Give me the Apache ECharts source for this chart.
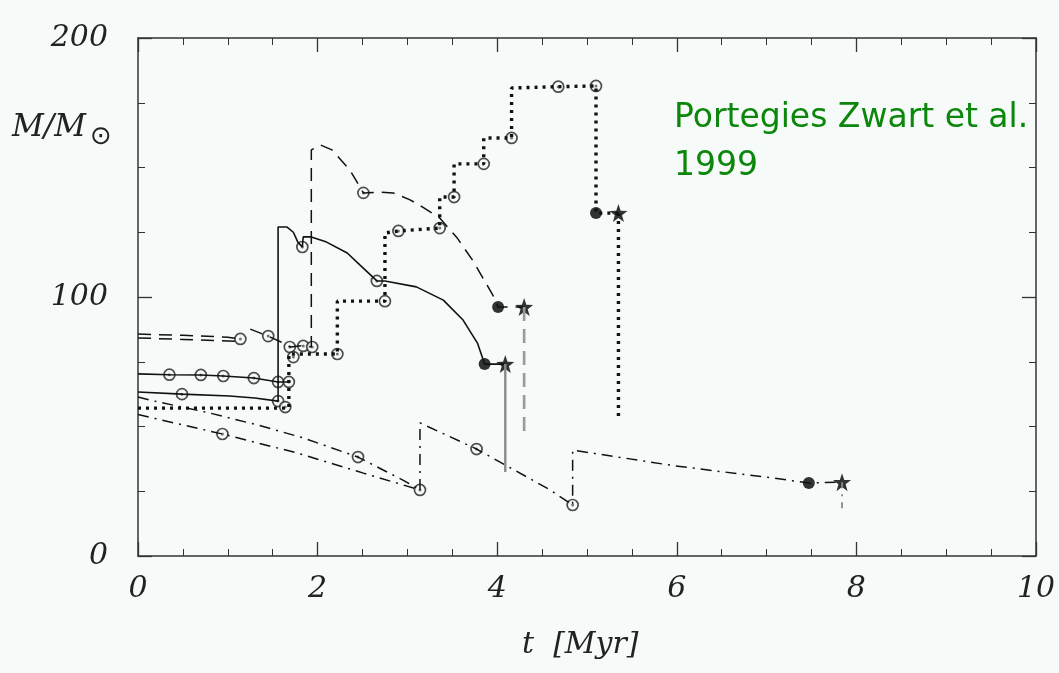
<!DOCTYPE html>
<html>
<head>
<meta charset="UTF-8">
<title>runaway merger mass</title>
<style>
	* { margin: 0; padding: 0; }
	html, body { width: 100%; height: 100%; overflow: hidden; background: #f6faf8; }
	#chart { width: 1059px; height: 673px; }
</style>
</head>
<body>
<div id="chart"></div>
<script src="https://cdn.jsdelivr.net/npm/echarts@6/dist/echarts.min.js"></script>
<script>
// x ticks / y ticks
var xTicks = [0, 2, 4, 6, 8, 10];
var yTicks = [0, 100, 200];

// tracks, [t (Myr), M (Msun)]
var solidUpper = [[0, 70.3], [0.35, 70.0], [0.70, 69.9], [0.95, 69.5], [1.29, 68.7], [1.56, 67.2], [1.68, 67.2]];
var solidLower = [[0, 63.3], [0.49, 62.5], [1.02, 61.8], [1.30, 61.0], [1.56, 59.8],
	[1.56, 127], [1.66, 127], [1.73, 125], [1.78, 121.2], [1.83, 119.3], [1.84, 123.2], [1.93, 123.2],
	[2.10, 121.2], [2.33, 117], [2.47, 112.4], [2.66, 106.2], [2.75, 106.2], [3.10, 103.9],
	[3.40, 98.8], [3.62, 91.1], [3.78, 82.2], [3.86, 74.1], [4.09, 74.1]];
var dashedA = [[0, 85.7], [0.5, 85.2], [1.0, 84.5], [1.14, 83.8]];
var dashedB = [[0, 84.2], [0.5, 83.6], [1.0, 83.0], [1.14, 82.8]];
var dashedC = [[1.25, 87.6], [1.45, 84.9], [1.60, 82.5], [1.70, 80.7], [1.84, 81.3], [1.93, 80.7],
	[1.93, 156.8], [2.03, 158.7], [2.16, 156.8], [2.36, 149], [2.51, 140.2], [2.69, 140.5],
	[2.84, 140.2], [3.03, 137.5], [3.17, 134.7], [3.36, 130.5], [3.55, 123], [3.73, 114],
	[3.95, 100.8], [4.01, 96.1], [4.30, 96.1]];
var dotted = [[0, 57.1], [1.68, 57.1], [1.68, 78], [2.22, 78], [2.22, 98.4], [2.75, 98.4],
	[2.75, 124.7], [2.90, 125.5], [3.36, 126.6], [3.36, 138.6], [3.52, 138.6], [3.52, 151.4],
	[3.85, 151.4], [3.85, 161.4], [4.16, 161.4], [4.16, 180.7], [4.68, 181.2], [5.10, 181.5],
	[5.10, 132.4], [5.35, 132.4]];
var dashDot1 = [[0, 61.4], [0.13, 60.2], [0.80, 55.2], [1.33, 50.6], [1.84, 45.6], [2.45, 38.2],
	[2.73, 33.2], [2.95, 29.3], [3.14, 25.5]];
var dashDot2 = [[0, 54.6], [0.94, 47.1], [1.77, 39.8], [2.51, 32.0], [3.14, 25.5]];
var dashDot3 = [[3.14, 25.5], [3.14, 51.4], [3.19, 50.6], [3.77, 41.3], [4.59, 25.5], [4.84, 19.7],
	[4.84, 40.9], [5.96, 34.9], [7.07, 30.1], [7.47, 28.2], [7.84, 28.5]];

// final drops after the star
var dropSolid = [[4.09, 74.1], [4.09, 32.4]];
var dropDashed = [[4.30, 96.1], [4.30, 47.5]];
var dropDotted = [[5.35, 132.4], [5.35, 53.3]];
var dropDashDot = [[7.84, 28.5], [7.84, 17]];

// collisions (open), supernova (filled), stars
var openPts = [[0.35, 70.0], [0.70, 69.9], [0.95, 69.5], [1.29, 68.7], [1.56, 67.2], [1.68, 67.2],
	[0.49, 62.5], [1.56, 59.8], [1.64, 57.5], [1.83, 119.3], [2.66, 106.2],
	[1.14, 83.8], [1.45, 84.9], [1.69, 80.7], [1.73, 76.8], [1.84, 81.1], [1.94, 80.7], [2.51, 140.2],
	[2.22, 78], [2.75, 98.4], [2.90, 125.5], [3.36, 126.6], [3.52, 138.6], [3.85, 151.4],
	[4.16, 161.4], [4.68, 181.2], [5.10, 181.5],
	[0.94, 47.1], [2.45, 38.2], [3.14, 25.5], [3.77, 41.3], [4.84, 19.7]];
var filledPts = [[3.86, 74.1], [4.01, 96.1], [5.10, 132.4], [7.47, 28.2]];
var starPts = [[4.09, 74.1], [4.30, 96.1], [5.35, 132.4], [7.84, 28.5]];

var ink = '#111';
var bg = '#f6faf8';
var labelFont = { fontFamily: 'DejaVu Serif', fontStyle: 'italic', fontSize: 30, color: '#222' };
var star = 'path://M0,-10 L2.35,-3.24 L9.51,-3.09 L3.8,1.24 L5.88,8.09 L0,4 L-5.88,8.09 L-3.8,1.24 L-9.51,-3.09 L-2.35,-3.24 Z';

function line(data, type, width, color) {
	return {
		type: 'line', data: data, symbol: 'none', animation: false, silent: true,
		lineStyle: { color: color || ink, width: width, type: type, cap: 'butt' }
	};
}

function xAx(pos) {
	return {
		type: 'value', position: pos, min: 0, max: 10, interval: 2,
		axisLine: { show: true, onZero: false, lineStyle: { color: '#333', width: 1.5 } },
		axisTick: { show: true, inside: true, length: 14, lineStyle: { color: '#333', width: 1.3 } },
		minorTick: { show: true, splitNumber: 4, length: 7, lineStyle: { color: '#333', width: 1 } },
		splitLine: { show: false },
		axisLabel: pos === 'bottom' ? Object.assign({ margin: 18, formatter: function (v) {
			return xTicks.indexOf(v) >= 0 ? String(v) : ''; } }, labelFont) : { show: false }
	};
}

function yAx(pos) {
	return {
		type: 'value', position: pos, min: 0, max: 200, interval: 100,
		axisLine: { show: true, onZero: false, lineStyle: { color: '#333', width: 1.5 } },
		axisTick: { show: true, inside: true, length: 14, lineStyle: { color: '#333', width: 1.3 } },
		minorTick: { show: true, splitNumber: 4, length: 7, lineStyle: { color: '#333', width: 1 } },
		splitLine: { show: false },
		axisLabel: pos === 'left' ? Object.assign({ margin: 30, formatter: function (v) {
			return yTicks.indexOf(v) >= 0 ? String(v) : ''; } }, labelFont) : { show: false }
	};
}

var chart = echarts.init(document.getElementById('chart'));
chart.setOption({
	backgroundColor: bg,
	animation: false,
	grid: { left: 138, right: 23, top: 38, bottom: 117 },
	xAxis: [xAx('bottom'), xAx('top')],
	yAxis: [yAx('left'), yAx('right')],
	graphic: [
		{ type: 'text', left: 12, top: 112, style: {
			text: '{m|M/M}{s|⊙}',
			rich: {
				m: { fontFamily: 'DejaVu Serif', fontStyle: 'italic', fontSize: 31, fill: '#222' },
				s: { fontFamily: 'DejaVu Sans', fontSize: 26, fill: '#222', padding: [20, 0, 0, 4] }
			}
		} },
		{ type: 'text', left: 522, top: 630, style: {
			text: 't  [Myr]', fontFamily: 'DejaVu Serif', fontStyle: 'italic', fontSize: 30, fill: '#222'
		} },
		{ type: 'text', left: 674, top: 94, style: {
			text: 'Portegies Zwart et al.\n1999', fontFamily: 'DejaVu Sans', fontSize: 33,
			lineHeight: 48, fill: '#0b870b'
		} }
	],
	series: [
		line(solidUpper, 'solid', 1.6),
		line(solidLower, 'solid', 1.6),
		line(dashedA, [13, 8], 1.5),
		line(dashedB, [13, 8], 1.5),
		line(dashedC, [13, 8], 1.5),
		line(dotted, [3, 5], 3.4),
		line(dashDot1, [11, 6, 2, 6], 1.5),
		line(dashDot2, [11, 6, 2, 6], 1.5),
		line(dashDot3, [11, 6, 2, 6], 1.5),
		line(dropSolid, 'solid', 2.4, '#8a8a8a'),
		line(dropDashed, [14, 8], 2.6, '#9a9a9a'),
		line(dropDotted, [3, 5], 3.4),
		line(dropDashDot, [6, 6, 2, 6], 1.8, '#8a8a8a'),
		{
			type: 'scatter', data: openPts, symbol: 'circle', symbolSize: 11, animation: false, silent: true,
			itemStyle: { color: bg, borderColor: '#222', borderWidth: 1.7 }
		},
		{
			type: 'scatter', data: openPts, symbol: 'circle', symbolSize: 3, animation: false, silent: true,
			itemStyle: { color: '#555' }
		},
		{
			type: 'scatter', data: filledPts, symbol: 'circle', symbolSize: 12, animation: false, silent: true,
			itemStyle: { color: '#000' }
		},
		{
			type: 'scatter', data: starPts, symbol: star, symbolSize: 18, animation: false, silent: true,
			itemStyle: { color: '#000' }
		}
	]
});
</script>
</body>
</html>
